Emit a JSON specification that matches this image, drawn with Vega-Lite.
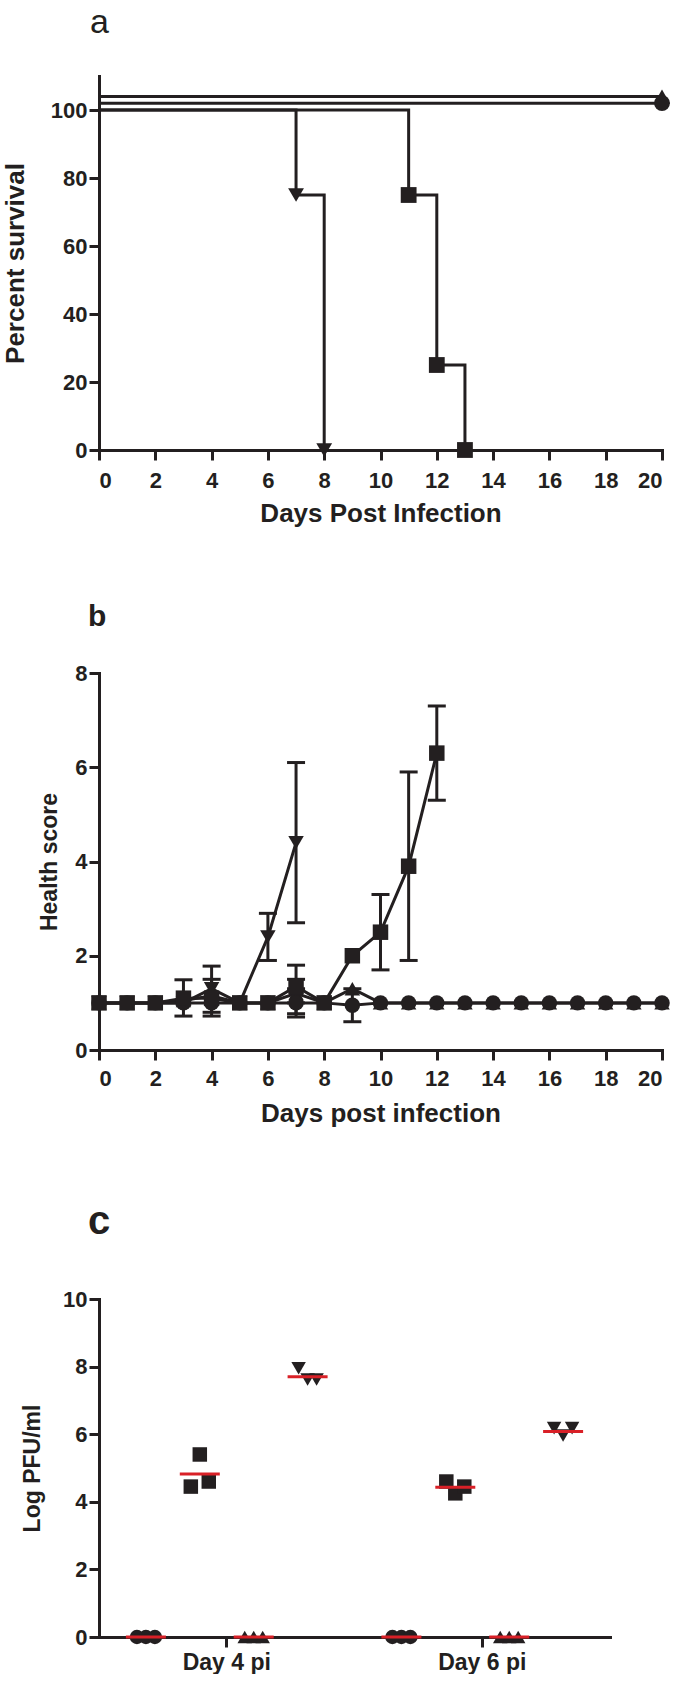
{
  "$schema": "https://vega.github.io/schema/vega-lite/v6.json",
  "background": "white",
  "padding": {"left": 2, "top": 6, "right": 0, "bottom": 0},
  "spacing": 76,
  "config": {
    "font": "Liberation Sans",
    "view": {"stroke": null},
    "axis": {
      "grid": false,
      "domainColor": "#231f20",
      "domainWidth": 3,
      "domainCap": "square",
      "tickColor": "#231f20",
      "tickWidth": 3,
      "tickSize": 10,
      "labelFont": "Liberation Sans",
      "labelFontWeight": "bold",
      "labelFontSize": 22,
      "labelColor": "#231f20",
      "labelPadding": 2,
      "titleFont": "Liberation Sans",
      "titleColor": "#231f20",
      "titleFontWeight": "bold"
    }
  },
  "vconcat": [
    {
      "width": 563,
      "height": 374,
      "title": {"text": "a", "anchor": "start", "frame": "group", "font": "Liberation Sans", "fontSize": 34, "fontWeight": "normal", "color": "#231f20", "dx": -9, "offset": 36},
      "data": {"values": [
        {"group": "U", "day": 0, "pct": 104, "event": false},
        {"group": "U", "day": 20, "pct": 104, "event": true},
        {"group": "C", "day": 0, "pct": 102, "event": false},
        {"group": "C", "day": 20, "pct": 102, "event": true},
        {"group": "S", "day": 0, "pct": 100, "event": false},
        {"group": "S", "day": 11, "pct": 75, "event": true},
        {"group": "S", "day": 12, "pct": 25, "event": true},
        {"group": "S", "day": 13, "pct": 0, "event": true},
        {"group": "T", "day": 0, "pct": 100, "event": false},
        {"group": "T", "day": 7, "pct": 75, "event": true},
        {"group": "T", "day": 8, "pct": 0, "event": true}
      ]},
      "encoding": {
        "x": {"field": "day", "type": "quantitative", "scale": {"domain": [0, 20], "nice": false},
              "axis": {"values": [0, 2, 4, 6, 8, 10, 12, 14, 16, 18, 20], "labelPadding": 10, "title": "Days Post Infection", "titleFontSize": 26, "titlePadding": 9}},
        "y": {"field": "pct", "type": "quantitative", "scale": {"domain": [0, 110], "nice": false},
              "axis": {"values": [0, 20, 40, 60, 80, 100], "title": "Percent survival", "titleFontSize": 26, "titlePadding": 22}}
      },
      "layer": [
        {"mark": {"type": "line", "interpolate": "step-after", "strokeWidth": 3, "color": "#231f20"},
         "encoding": {"detail": {"field": "group"}}},
        {"transform": [{"filter": "datum.event"}],
         "mark": {"type": "point", "filled": true, "opacity": 1, "color": "#231f20"},
         "encoding": {
           "shape": {"field": "group", "type": "nominal", "scale": {"domain": ["C", "S", "U", "T"], "range": ["circle", "square", "triangle-up", "triangle-down"]}, "legend": null},
           "size": {"value": 250}
         }}
      ]
    },
    {
      "width": 563,
      "height": 377,
      "title": {"text": "b", "anchor": "start", "frame": "group", "font": "Liberation Sans", "fontSize": 30, "fontWeight": "bold", "color": "#231f20", "dx": -11, "offset": 30},
      "data": {"values": [
        {"g": "U", "day": 0, "score": 1}, {"g": "U", "day": 1, "score": 1}, {"g": "U", "day": 2, "score": 1},
        {"g": "U", "day": 3, "score": 1.05}, {"g": "U", "day": 4, "score": 1.15, "lo": 0.72, "hi": 1.5},
        {"g": "U", "day": 5, "score": 1}, {"g": "U", "day": 6, "score": 1}, {"g": "U", "day": 7, "score": 1.2, "lo": 0.77, "hi": 1.5},
        {"g": "U", "day": 8, "score": 1}, {"g": "U", "day": 9, "score": 1.3}, {"g": "U", "day": 10, "score": 1},
        {"g": "U", "day": 11, "score": 1}, {"g": "U", "day": 12, "score": 1}, {"g": "U", "day": 13, "score": 1},
        {"g": "U", "day": 14, "score": 1}, {"g": "U", "day": 15, "score": 1}, {"g": "U", "day": 16, "score": 1},
        {"g": "U", "day": 17, "score": 1}, {"g": "U", "day": 18, "score": 1}, {"g": "U", "day": 19, "score": 1},
        {"g": "U", "day": 20, "score": 1},
        {"g": "C", "day": 0, "score": 1}, {"g": "C", "day": 1, "score": 1}, {"g": "C", "day": 2, "score": 1},
        {"g": "C", "day": 3, "score": 1}, {"g": "C", "day": 4, "score": 1}, {"g": "C", "day": 5, "score": 1},
        {"g": "C", "day": 6, "score": 1}, {"g": "C", "day": 7, "score": 1, "lo": 0.7, "hi": 1.3}, {"g": "C", "day": 8, "score": 1},
        {"g": "C", "day": 9, "score": 0.95, "lo": 0.6, "hi": 1.3}, {"g": "C", "day": 10, "score": 1}, {"g": "C", "day": 11, "score": 1},
        {"g": "C", "day": 12, "score": 1}, {"g": "C", "day": 13, "score": 1}, {"g": "C", "day": 14, "score": 1},
        {"g": "C", "day": 15, "score": 1}, {"g": "C", "day": 16, "score": 1}, {"g": "C", "day": 17, "score": 1},
        {"g": "C", "day": 18, "score": 1}, {"g": "C", "day": 19, "score": 1}, {"g": "C", "day": 20, "score": 1},
        {"g": "T", "day": 0, "score": 1}, {"g": "T", "day": 1, "score": 1}, {"g": "T", "day": 2, "score": 1},
        {"g": "T", "day": 3, "score": 1}, {"g": "T", "day": 4, "score": 1.3, "lo": 0.8, "hi": 1.78},
        {"g": "T", "day": 5, "score": 1}, {"g": "T", "day": 6, "score": 2.4, "lo": 1.9, "hi": 2.9},
        {"g": "T", "day": 7, "score": 4.4, "lo": 2.7, "hi": 6.1},
        {"g": "S", "day": 0, "score": 1}, {"g": "S", "day": 1, "score": 1}, {"g": "S", "day": 2, "score": 1},
        {"g": "S", "day": 3, "score": 1.1, "lo": 0.72, "hi": 1.49}, {"g": "S", "day": 4, "score": 1.1},
        {"g": "S", "day": 5, "score": 1}, {"g": "S", "day": 6, "score": 1}, {"g": "S", "day": 7, "score": 1.35, "lo": 1.0, "hi": 1.8},
        {"g": "S", "day": 8, "score": 1}, {"g": "S", "day": 9, "score": 2.0},
        {"g": "S", "day": 10, "score": 2.5, "lo": 1.7, "hi": 3.3},
        {"g": "S", "day": 11, "score": 3.9, "lo": 1.9, "hi": 5.9},
        {"g": "S", "day": 12, "score": 6.3, "lo": 5.3, "hi": 7.3}
      ]},
      "encoding": {
        "x": {"field": "day", "type": "quantitative", "scale": {"domain": [0, 20], "nice": false},
              "axis": {"values": [0, 2, 4, 6, 8, 10, 12, 14, 16, 18, 20], "labelPadding": 8, "title": "Days post infection", "titleFontSize": 26, "titlePadding": 11}}
      },
      "layer": [
        {"transform": [{"filter": "isValid(datum.lo)"}],
         "mark": {"type": "errorbar", "ticks": {"size": 18, "thickness": 3, "color": "#231f20", "opacity": 1}, "rule": {"strokeWidth": 3, "color": "#231f20", "opacity": 1}},
         "encoding": {
           "y": {"field": "lo", "type": "quantitative", "scale": {"domain": [0, 8], "nice": false},
                 "axis": {"values": [0, 2, 4, 6, 8], "title": "Health  score", "titleFontSize": 23, "titlePadding": 13}},
           "y2": {"field": "hi"}
         }},
        {"mark": {"type": "line", "strokeWidth": 3, "color": "#231f20"},
         "encoding": {"y": {"field": "score", "type": "quantitative"}, "detail": {"field": "g"}}},
        {"mark": {"type": "point", "filled": true, "opacity": 1, "color": "#231f20"},
         "encoding": {
           "y": {"field": "score", "type": "quantitative"},
           "shape": {"field": "g", "type": "nominal", "scale": {"domain": ["C", "S", "U", "T"], "range": ["circle", "square", "triangle-up", "triangle-down"]}, "legend": null},
           "size": {"value": 240}
         }}
      ]
    },
    {
      "width": 511,
      "height": 338,
      "title": {"text": "c", "anchor": "start", "frame": "group", "font": "Liberation Sans", "fontSize": 40, "fontWeight": "bold", "color": "#231f20", "dx": -11, "offset": 46},
      "encoding": {
        "x": {"field": "day", "type": "nominal", "scale": {"type": "band", "domain": ["Day 4 pi", "Day 6 pi"], "paddingInner": 0.121, "paddingOuter": 0.0605},
              "axis": {"title": null, "labelAngle": 0, "labelFontSize": 23, "labelPadding": 4}},
        "xOffset": {"field": "slot", "type": "nominal", "scale": {"type": "band", "paddingInner": 0, "paddingOuter": 0,
              "domain": ["_a", "_b", "C1", "C2", "C3", "_c", "_d", "_e", "S1", "S2", "S3", "_f", "_g", "_h", "U1", "U2", "U3", "_i", "_j", "_k", "T1", "T2", "T3", "_l", "_m"]}},
        "y": {"type": "quantitative", "scale": {"domain": [0, 10], "nice": false},
              "axis": {"values": [0, 2, 4, 6, 8, 10], "title": "Log PFU/ml", "titleFontSize": 23, "titlePadding": 18}}
      },
      "layer": [
        {"data": {"values": [
          {"day": "Day 4 pi", "group": "C", "slot": "C1", "logpfu": 0},
          {"day": "Day 4 pi", "group": "C", "slot": "C2", "logpfu": 0},
          {"day": "Day 4 pi", "group": "C", "slot": "C3", "logpfu": 0},
          {"day": "Day 4 pi", "group": "S", "slot": "S1", "logpfu": 4.45},
          {"day": "Day 4 pi", "group": "S", "slot": "S2", "logpfu": 5.4},
          {"day": "Day 4 pi", "group": "S", "slot": "S3", "logpfu": 4.6},
          {"day": "Day 4 pi", "group": "U", "slot": "U1", "logpfu": 0},
          {"day": "Day 4 pi", "group": "U", "slot": "U2", "logpfu": 0},
          {"day": "Day 4 pi", "group": "U", "slot": "U3", "logpfu": 0},
          {"day": "Day 4 pi", "group": "T", "slot": "T1", "logpfu": 7.95},
          {"day": "Day 4 pi", "group": "T", "slot": "T2", "logpfu": 7.62},
          {"day": "Day 4 pi", "group": "T", "slot": "T3", "logpfu": 7.62},
          {"day": "Day 6 pi", "group": "C", "slot": "C1", "logpfu": 0},
          {"day": "Day 6 pi", "group": "C", "slot": "C2", "logpfu": 0},
          {"day": "Day 6 pi", "group": "C", "slot": "C3", "logpfu": 0},
          {"day": "Day 6 pi", "group": "S", "slot": "S1", "logpfu": 4.6},
          {"day": "Day 6 pi", "group": "S", "slot": "S2", "logpfu": 4.25},
          {"day": "Day 6 pi", "group": "S", "slot": "S3", "logpfu": 4.45},
          {"day": "Day 6 pi", "group": "U", "slot": "U1", "logpfu": 0},
          {"day": "Day 6 pi", "group": "U", "slot": "U2", "logpfu": 0},
          {"day": "Day 6 pi", "group": "U", "slot": "U3", "logpfu": 0},
          {"day": "Day 6 pi", "group": "T", "slot": "T1", "logpfu": 6.18},
          {"day": "Day 6 pi", "group": "T", "slot": "T2", "logpfu": 5.96},
          {"day": "Day 6 pi", "group": "T", "slot": "T3", "logpfu": 6.18}
        ]},
         "mark": {"type": "point", "filled": true, "opacity": 1, "color": "#231f20"},
         "encoding": {
           "y": {"field": "logpfu"},
           "shape": {"field": "group", "type": "nominal", "scale": {"domain": ["C", "S", "U", "T"], "range": ["circle", "square", "triangle-up", "triangle-down"]}, "legend": null},
           "size": {"value": 210}
         }},
        {"data": {"values": [
          {"day": "Day 4 pi", "group": "C", "slot": "C2", "mean": 0},
          {"day": "Day 4 pi", "group": "S", "slot": "S2", "mean": 4.82},
          {"day": "Day 4 pi", "group": "U", "slot": "U2", "mean": 0},
          {"day": "Day 4 pi", "group": "T", "slot": "T2", "mean": 7.7},
          {"day": "Day 6 pi", "group": "C", "slot": "C2", "mean": 0},
          {"day": "Day 6 pi", "group": "S", "slot": "S2", "mean": 4.43},
          {"day": "Day 6 pi", "group": "U", "slot": "U2", "mean": 0},
          {"day": "Day 6 pi", "group": "T", "slot": "T2", "mean": 6.08}
        ]},
         "mark": {"type": "tick", "orient": "horizontal", "size": 40, "thickness": 3, "color": "#d92027", "opacity": 1},
         "encoding": {"y": {"field": "mean"}}}
      ]
    }
  ]
}
